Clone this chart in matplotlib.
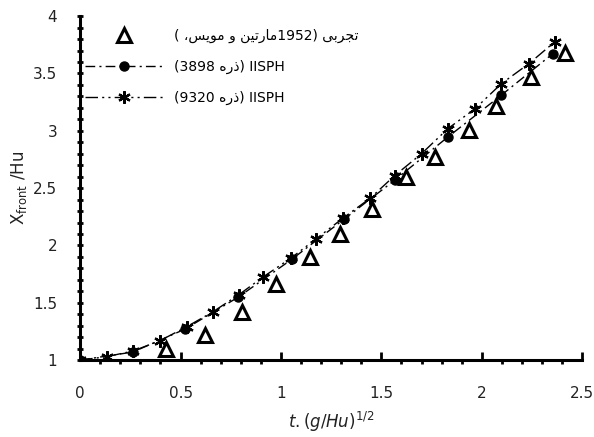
import matplotlib
matplotlib.use('Agg')
import matplotlib.pyplot as plt
from matplotlib.ticker import MultipleLocator

# experimental data (Martin & Moyce 1952)
exp_x = [0.428, 0.622, 0.804, 0.975, 1.144, 1.294, 1.451, 1.625, 1.766, 1.937, 2.073, 2.247, 2.413]
exp_y = [1.10, 1.218, 1.42, 1.66, 1.90, 2.10, 2.32, 2.60, 2.77, 3.005, 3.22, 3.47, 3.68]

# IISPH, 3898 particles
p1_x = [0, 0.262, 0.522, 0.788, 1.053, 1.313, 1.567, 1.832, 2.097, 2.355]
p1_y = [1.0, 1.07, 1.27, 1.55, 1.878, 2.227, 2.57, 2.947, 3.31, 3.674]

# IISPH, 9320 particles
p2_x = [0, 0.133, 0.265, 0.398, 0.53, 0.66, 0.79, 0.912, 1.05, 1.177, 1.31, 1.443,
        1.567, 1.70, 1.832, 1.965, 2.097, 2.236, 2.363]
p2_y = [1.0, 1.03, 1.08, 1.17, 1.29, 1.42, 1.57, 1.726, 1.89, 2.06, 2.24, 2.41,
        2.61, 2.80, 3.02, 3.19, 3.41, 3.587, 3.775]

# arabic presentation forms: isolated, final, initial, medial
FORMS = {
    'ا': ('\uFE8D', '\uFE8E', None, None),
    'ب': ('\uFE8F', '\uFE90', '\uFE91', '\uFE92'),
    'ت': ('\uFE95', '\uFE96', '\uFE97', '\uFE98'),
    'ج': ('\uFE9D', '\uFE9E', '\uFE9F', '\uFEA0'),
    'ذ': ('\uFEAB', '\uFEAC', None, None),
    'ر': ('\uFEAD', '\uFEAE', None, None),
    'س': ('\uFEB1', '\uFEB2', '\uFEB3', '\uFEB4'),
    'م': ('\uFEE1', '\uFEE2', '\uFEE3', '\uFEE4'),
    'ن': ('\uFEE5', '\uFEE6', '\uFEE7', '\uFEE8'),
    'ه': ('\uFEE9', '\uFEEA', '\uFEEB', '\uFEEC'),
    'و': ('\uFEED', '\uFEEE', None, None),
    'ی': ('\uFEEF', '\uFEF0', '\uFEF3', '\uFEF4'),
}


def rtl(text):
    # shape letters and give them back in visual (left to right) order
    out = []
    for i, ch in enumerate(text):
        if ch not in FORMS:
            out.append(ch)
            continue
        prev = text[i - 1] if i > 0 else ''
        nxt = text[i + 1] if i + 1 < len(text) else ''
        join_prev = prev in FORMS and FORMS[prev][2] is not None
        join_next = FORMS[ch][2] is not None and nxt in FORMS
        iso, fin, ini, med = FORMS[ch]
        if join_prev and join_next:
            out.append(med)
        elif join_prev:
            out.append(fin)
        elif join_next:
            out.append(ini)
        else:
            out.append(iso)
    return ''.join(reversed(out))


label_exp = '( ' + rtl('مارتین و مویس،') + '1952) ' + rtl('تجربی')
label_p1 = '(3898 ' + rtl('ذره') + ') IISPH'
label_p2 = '(9320 ' + rtl('ذره') + ') IISPH'

plt.rcParams['font.family'] = ['DejaVu Sans']

fig = plt.figure(figsize=(5.94, 4.37), dpi=100)
ax = fig.add_axes([0.135, 0.176, 0.845, 0.787])

ax.plot(exp_x, exp_y, linestyle='none', marker='^', markersize=9.5, markerfacecolor='white',
        markeredgecolor='black', markeredgewidth=2.2, label=label_exp, zorder=3)
ax.plot(p1_x, p1_y, color='black', linewidth=1, dashes=(7, 3, 1.5, 3), marker='o',
        markersize=6.5, markerfacecolor='black', markeredgecolor='black', label=label_p1, zorder=4)
ax.plot(p2_x, p2_y, color='black', linewidth=1, dashes=(9, 3, 1.5, 3, 1.5, 3), marker=(6, 2, 0),
        markersize=9, markeredgewidth=1.6, markeredgecolor='black', label=label_p2, zorder=5)

ax.set_xlim(0, 2.5)
ax.set_ylim(1, 4)
ax.xaxis.set_major_locator(MultipleLocator(0.5))
ax.xaxis.set_minor_locator(MultipleLocator(0.1))
ax.yaxis.set_major_locator(MultipleLocator(0.5))
ax.yaxis.set_minor_locator(MultipleLocator(0.1))
ax.xaxis.set_major_formatter(plt.FuncFormatter(lambda v, p: '%g' % v))
ax.yaxis.set_major_formatter(plt.FuncFormatter(lambda v, p: '%g' % v))

for s in ['top', 'right']:
    ax.spines[s].set_visible(False)
for s in ['left', 'bottom']:
    ax.spines[s].set_linewidth(2.2)

ax.tick_params(axis='x', which='major', direction='in', length=6, width=2, pad=19,
               labelsize=11, labelcolor='#222222')
ax.tick_params(axis='x', which='minor', direction='out', length=3, width=2)
ax.tick_params(axis='y', which='major', direction='inout', length=5, width=2, pad=14,
               labelsize=11, labelcolor='#222222')
ax.tick_params(axis='y', which='minor', direction='inout', length=5, width=2)

ax.set_xlabel(r'$t.(g/Hu)^{1/2}$', fontsize=12, color='#222222', labelpad=6)
ax.set_ylabel(r'X$_{\rm front}$ /Hu', fontsize=12, color='#222222', labelpad=3)

ax.legend(loc='upper left', bbox_to_anchor=(-0.015, 1.0), frameon=False, fontsize=10,
          handlelength=5.6, handletextpad=0.8, labelspacing=1.2)

fig.savefig('out.png', dpi=100)
